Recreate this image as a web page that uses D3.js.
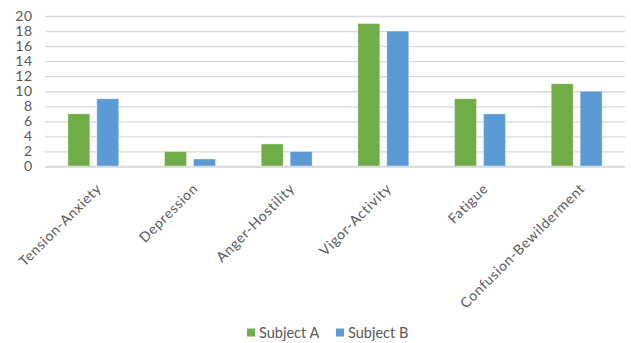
<!DOCTYPE html>
<html>
<head>
<meta charset="utf-8">
<script src="https://cdn.jsdelivr.net/npm/d3@7"></script>
<style>
  html, body { margin: 0; padding: 0; background: #fff; }
  svg { display: block; font-family: Lato, "Open Sans", sans-serif; }
</style>
</head>
<body>
<svg id="chart" width="631" height="343"></svg>
<script>
const categories = ["Tension-Anxiety", "Depression", "Anger-Hostility", "Vigor-Activity", "Fatigue", "Confusion-Bewilderment"];
const seriesNames = ["Subject A", "Subject B"];
const subjectA = [7, 2, 3, 19, 9, 11];
const subjectB = [9, 1, 2, 18, 7, 10];
const yTicks = [0, 2, 4, 6, 8, 10, 12, 14, 16, 18, 20];
const colors = ["#70AD47", "#5B9BD5"];

const svg = d3.select("#chart");
const plotLeft = 45, plotRight = 625, plotTop = 16, plotBottom = 166.5;

const x0 = d3.scaleBand().domain(categories).range([plotLeft, plotRight]).paddingInner(0).paddingOuter(0);
const x1 = d3.scaleBand().domain(seriesNames).range([0, x0.bandwidth()]).paddingInner(0.24).paddingOuter(0.79);
const y = d3.scaleLinear().domain([0, 20]).range([plotBottom, plotTop]);
const color = d3.scaleOrdinal().domain(seriesNames).range(colors);

// gridlines
const grid = svg.append("g")
  .attr("transform", `translate(${plotLeft},0)`)
  .call(d3.axisLeft(y).tickValues(yTicks).tickSize(-(plotRight - plotLeft)).tickFormat(""));
grid.select(".domain").remove();
grid.selectAll("line").attr("stroke", "#d9d9d9").attr("stroke-width", 1.3);

// y labels
const yAxis = svg.append("g")
  .attr("transform", `translate(${plotLeft},0)`)
  .call(d3.axisLeft(y).tickValues(yTicks).tickSize(0).tickPadding(12));
yAxis.select(".domain").remove();
yAxis.selectAll("text")
  .attr("fill", "#595959")
  .attr("font-size", 14)
  .attr("letter-spacing", "0.8px")
  .attr("font-family", "Lato, 'Open Sans', sans-serif");

// bars
const data = categories.map((c, i) => ({ cat: c, values: [subjectA[i], subjectB[i]] }));
const groups = svg.append("g").selectAll("g").data(data).join("g")
  .attr("transform", d => `translate(${x0(d.cat)},0)`);
groups.selectAll("rect")
  .data(d => seriesNames.map((s, j) => ({ s, v: d.values[j] })))
  .join("rect")
  .attr("x", d => x1(d.s))
  .attr("width", x1.bandwidth())
  .attr("y", d => y(d.v))
  .attr("height", d => y(0) - y(d.v))
  .attr("fill", d => color(d.s))
  .attr("stroke", "#ffffff")
  .attr("stroke-opacity", 0.5)
  .attr("stroke-width", 0.8);

// bottom baseline
svg.append("line").attr("x1", plotLeft).attr("x2", plotRight).attr("y1", y(0)).attr("y2", y(0))
  .attr("stroke", "#d9d9d9").attr("stroke-width", 1.3);

// x labels
const xAxis = svg.append("g")
  .attr("transform", `translate(0,${plotBottom})`)
  .call(d3.axisBottom(x0).tickSize(0).tickPadding(0));
xAxis.select(".domain").remove();
xAxis.selectAll("text")
  .attr("fill", "#595959")
  .attr("font-size", 14)
  .attr("letter-spacing", "0.7px")
  .attr("font-family", "Lato, 'Open Sans', sans-serif")
  .attr("text-anchor", "end")
  .attr("y", 0)
  .attr("dy", 0)
  .attr("transform", "translate(9,23) rotate(-45)");

// legend
const legend = svg.append("g").attr("transform", "translate(247,332.5)");
const items = legend.selectAll("g").data(seriesNames).join("g")
  .attr("transform", (d, i) => `translate(${i * 89},0)`);
items.append("rect").attr("x", 0).attr("y", -4).attr("width", 8).attr("height", 8).attr("fill", d => color(d));
items.append("text").attr("x", 12).attr("y", 0).attr("dy", "0.36em")
  .attr("fill", "#595959").attr("font-size", 14.5).text(d => d);
</script>
</body>
</html>
